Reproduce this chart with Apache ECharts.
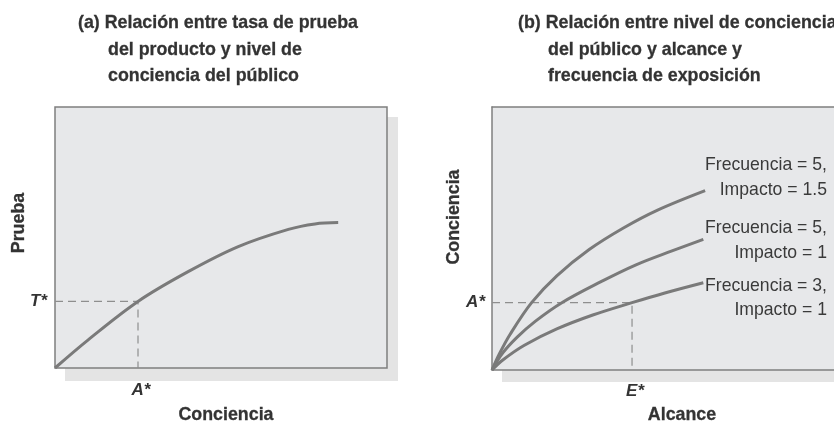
<!DOCTYPE html>
<html>
<head>
<meta charset="utf-8">
<script src="https://cdn.jsdelivr.net/npm/echarts@6/dist/echarts.min.js"></script>
<style>
  html, body { margin: 0; padding: 0; background: #fff; }
  #chart { width: 834px; height: 425px; }
</style>
</head>
<body>
<div id="chart"></div>
<script>
var FONT = "'Liberation Sans', Arial, sans-serif";

// panel (a): conciencia (x) vs prueba (y)
var pruebaCurve = [[0, 0], [10, 10.8], [25, 25.5], [40.1, 36.9], [55.2, 46.5], [70.3, 53.1], [78.3, 55.2], [85.3, 55.7]];
var aStarA = 25;     // A*
var tStar = 25.5;    // T*

// panel (b): alcance (x) vs conciencia (y)
var curveF5I15 = [[0, 0], [2, 6], [5, 13.5], [11, 25.6], [18, 35.8], [27, 45.8], [36.5, 54], [46, 60.8], [59.2, 68.2]];
var curveF5I1 = [[0, 0], [3, 6.5], [7, 12.5], [12, 18.5], [19.4, 25.6], [30, 33.4], [40, 40], [50, 45.3], [58.7, 49.7]];
var curveF3I1 = [[0, 0], [3, 3.8], [9, 9.4], [18, 15.6], [28, 20.9], [38.9, 25.6], [48, 29.3], [58.7, 33.2]];
var aStarB = 25.6;   // A*
var eStar = 38.9;    // E*

var titleA = ['(a) Relación entre tasa de prueba', 'del producto y nivel de', 'conciencia del público'];
var titleB = ['(b) Relación entre nivel de conciencia', 'del público y alcance y', 'frecuencia de exposición'];
var curveLabels = [['Frecuencia = 5,', 'Impacto = 1.5'], ['Frecuencia = 5,', 'Impacto = 1'], ['Frecuencia = 3,', 'Impacto = 1']];

var chart = echarts.init(document.getElementById('chart'));

var lineColor = '#7a7a7a';
var dashColor = '#8e8e8e';
var textColor = '#333';
var frameColor = '#7f7f7f';
var FS = 19;

// the source uses a condensed face; squeeze a regular one to the same widths
var mctx = document.createElement('canvas').getContext('2d');
function textWidth(text, weight) {
    mctx.font = weight + ' ' + FS + 'px ' + FONT;
    return mctx.measureText(text).width;
}
var boldScale = 280 / textWidth(titleA[0], 'bold');
var regScale = 122 / textWidth(curveLabels[0][0], 'normal');

function curve(data, gi) {
    return {
        type: 'line', xAxisIndex: gi, yAxisIndex: gi, data: data,
        smooth: 0.35, symbol: 'none', silent: true,
        lineStyle: { color: lineColor, width: 3 }
    };
}

function starLabel(text, pos, dist, off) {
    return {
        show: true, position: pos, distance: dist, offset: off, formatter: text,
        fontFamily: FONT, fontSize: 17, fontWeight: 'bold', fontStyle: 'italic', color: textColor
    };
}

function dashes(gi, x, y, yText, xText, yDist, xDist) {
    return {
        type: 'line', xAxisIndex: gi, yAxisIndex: gi, silent: true,
        symbol: 'circle', symbolSize: 0,
        lineStyle: { color: dashColor, width: 1.2, type: [8, 5] },
        data: [
            { value: [0, y], label: starLabel(yText, 'left', yDist, [0, 0]) },
            { value: [x, y] },
            { value: [x, 0], label: starLabel(xText, 'bottom', xDist, [3, 0]) }
        ]
    };
}

function textEl(text, x, y, opts) {
    var bold = opts.fontWeight === 'bold';
    var s = {
        text: text, fontFamily: FONT, fontSize: FS, fill: textColor,
        align: 'left', verticalAlign: 'middle'
    };
    if (bold) { s.stroke = textColor; s.lineWidth = 0.3; }
    for (var k in opts) if (k !== 'rot') s[k] = opts[k];
    return {
        type: 'text', x: x, y: y, style: s, rotation: opts.rot || 0,
        scaleX: bold ? boldScale : regScale, z: 10
    };
}

var graphics = [
    // drop shadows behind the plot boxes
    { type: 'rect', shape: { x: 65, y: 117, width: 333, height: 264 }, style: { fill: '#e4e4e4' }, z: -100 },
    { type: 'rect', shape: { x: 502, y: 117, width: 340, height: 265 }, style: { fill: '#e4e4e4' }, z: -100 }
];

var lineY = [23, 49.5, 76];
titleA.forEach(function (t, i) {
    graphics.push(textEl(t, i === 0 ? 78 : 108, lineY[i], { fontWeight: 'bold' }));
});
titleB.forEach(function (t, i) {
    graphics.push(textEl(t, i === 0 ? 518 : 548, lineY[i], { fontWeight: 'bold' }));
});

// axis names
graphics.push(textEl('Prueba', 19, 223, { fontWeight: 'bold', align: 'center', rot: Math.PI / 2 }));
graphics.push(textEl('Conciencia', 226, 415, { fontWeight: 'bold', align: 'center' }));
graphics.push(textEl('Conciencia', 454, 217, { fontWeight: 'bold', align: 'center', rot: Math.PI / 2 }));
graphics.push(textEl('Alcance', 682, 415, { fontWeight: 'bold', align: 'center' }));

// curve labels in panel (b)
var labelY = [[165, 190], [228, 253], [286, 310]];
curveLabels.forEach(function (pair, i) {
    graphics.push(textEl(pair[0], 827, labelY[i][0], { align: 'right', fill: '#3a3a3a' }));
    graphics.push(textEl(pair[1], 827, labelY[i][1], { align: 'right', fill: '#3a3a3a' }));
});

// bare axis: only its line, used as a frame side
function frameAxis(gi, pos, extra) {
    var ax = {
        gridIndex: gi, type: 'value', min: 0, max: 100, position: pos,
        axisLine: { show: true, lineStyle: { color: frameColor, width: 1.5 } },
        axisTick: { show: false }, axisLabel: { show: false }, splitLine: { show: false }
    };
    for (var k in extra) ax[k] = extra[k];
    return ax;
}

var option = {
    animation: false,
    graphic: graphics,
    grid: [
        { left: 55, top: 107, width: 332, height: 261, show: true, backgroundColor: '#e7e8ea', borderColor: frameColor, borderWidth: 1.5 },
        // panel (b) runs off the right edge of the page, so no right border
        { left: 492, top: 107, right: 0, height: 263, show: true, backgroundColor: '#e7e8ea', borderWidth: 0 }
    ],
    xAxis: [
        { gridIndex: 0, type: 'value', min: 0, max: 100, show: false },
        frameAxis(1, 'bottom', { max: 95 }),
        frameAxis(1, 'top', { max: 95 })
    ],
    yAxis: [
        { gridIndex: 0, type: 'value', min: 0, max: 100, show: false },
        frameAxis(1, 'left', {})
    ],
    series: [
        dashes(0, aStarA, tStar, 'T*', 'A*', 8, 14),
        curve(pruebaCurve, 0),
        dashes(1, eStar, aStarB, 'A*', 'E*', 7, 13),
        curve(curveF5I15, 1),
        curve(curveF5I1, 1),
        curve(curveF3I1, 1)
    ]
};

chart.setOption(option);
</script>
</body>
</html>
